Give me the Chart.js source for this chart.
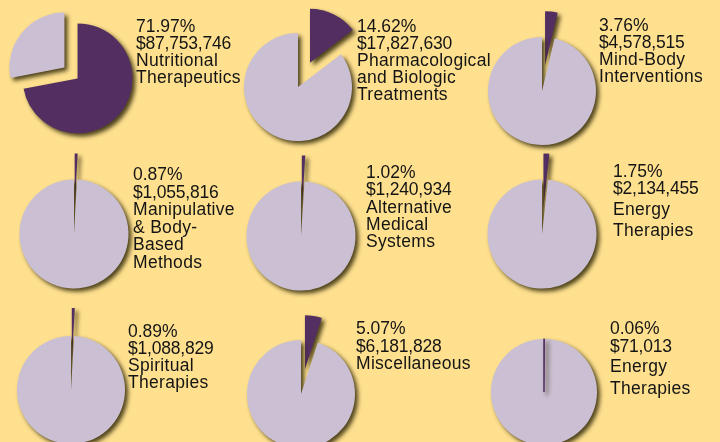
<!DOCTYPE html>
<html>
<head>
<meta charset="UTF-8">
<title>Funding by category</title>
<script src="https://cdn.jsdelivr.net/npm/chart.js"></script>
<style>
  html, body { margin: 0; padding: 0; }
  body {
    width: 720px; height: 442px; overflow: hidden; position: relative;
    background: #fee08f;
    font-family: "Liberation Sans", Arial, sans-serif;
    color: #141414;
  }
  canvas { position: absolute; }
  .lbl { position: absolute; font-size: 17.5px; line-height: 17px; white-space: nowrap; }
  .lbl div { position: absolute; left: 0; }
  .pct { letter-spacing: 0; }
  .amt { letter-spacing: -0.2px; }
  .name { letter-spacing: 0.3px; }
</style>
</head>
<body>
<script>
// data
const categories = [
  'Nutritional Therapeutics',
  'Pharmacological and Biologic Treatments',
  'Mind-Body Interventions',
  'Manipulative & Body-Based Methods',
  'Alternative Medical Systems',
  'Energy Therapies',
  'Spiritual Therapies',
  'Miscellaneous',
  'Energy Therapies'
];
const amounts = [87753746, 17827630, 4578515, 1055816, 1240934, 2134455, 1088829, 6181828, 71013];
const percents = ['71.97%', '14.62%', '3.76%', '0.87%', '1.02%', '1.75%', '0.89%', '5.07%', '0.06%'];
const amountLabels = ['$87,753,746', '$17,827,630', '$4,578,515', '$1,055,816', '$1,240,934',
  '$2,134,455', '$1,088,829', '$6,181,828', '$71,013'];
// how the category name breaks into lines
const nameLines = [
  ['Nutritional', 'Therapeutics'],
  ['Pharmacological', 'and Biologic', 'Treatments'],
  ['Mind-Body', 'Interventions'],
  ['Manipulative', '& Body-', 'Based', 'Methods'],
  ['Alternative', 'Medical', 'Systems'],
  ['Energy', 'Therapies'],
  ['Spiritual', 'Therapies'],
  ['Miscellaneous'],
  ['Energy', 'Therapies']
];

const total = amounts.reduce((a, b) => a + b, 0);

// layout
const PURPLE = '#532e60';
const LAVENDER = '#cbc0d3';
const pies = [
  { cx: 70.5, cy: 72.5, r: 55, explode: [8.5, 8.5] },
  { cx: 298, cy: 87, r: 54, explode: [27, 0] },
  { cx: 542, cy: 91, r: 54, explode: [26, 0] },
  { cx: 73.5, cy: 233.5, r: 54.5, explode: [26, 0] },
  { cx: 301, cy: 236, r: 54.5, explode: [26, 0] },
  { cx: 542, cy: 233.5, r: 54.5, explode: [26, 0] },
  { cx: 71, cy: 390, r: 54, explode: [28, 0] },
  { cx: 301, cy: 394, r: 54, explode: [25, 0] },
  { cx: 544, cy: 392, r: 53, explode: [0, 0], order: [1, 0], edge: 1.5 }
];
const labelPos = [
  { x: 136, base: [33, 50, 67, 84] },
  { x: 357, base: [33, 50, 67, 84, 101] },
  { x: 599, base: [32, 49, 66, 83] },
  { x: 133, base: [181, 198.5, 216, 233.5, 251, 268.5] },
  { x: 366, base: [179, 196, 214, 231, 248] },
  { x: 613, base: [178, 194.5, 216, 237] },
  { x: 128, base: [338, 355, 372, 389] },
  { x: 356, base: [335, 352.5, 370] },
  { x: 610, base: [335, 353, 373, 395] }
];

// draws each slice pulled out along its middle angle, with a drop shadow
const explodePlugin = {
  id: 'explode',
  beforeDatasetDraw(chart, args, opts) {
    const ctx = chart.ctx;
    const arcs = args.meta.data;
    const order = opts.order || arcs.map((a, i) => i);
    order.forEach(i => {
      const arc = arcs[i];
      const d = opts.explode[i] || 0;
      const mid = (arc.startAngle + arc.endAngle) / 2;
      ctx.save();
      ctx.shadowColor = 'rgba(48, 40, 8, 0.85)';
      ctx.shadowBlur = 4;
      ctx.shadowOffsetX = 3;
      ctx.shadowOffsetY = 3;
      ctx.translate(Math.cos(mid) * d, Math.sin(mid) * d);
      arc.draw(ctx);
      ctx.restore();
    });
    return false;
  }
};

const SIZE = 200;
pies.forEach((p, k) => {
  const cv = document.createElement('canvas');
  cv.width = SIZE;
  cv.height = SIZE;
  cv.style.left = (p.cx - SIZE / 2) + 'px';
  cv.style.top = (p.cy - SIZE / 2) + 'px';
  document.body.appendChild(cv);

  new Chart(cv, {
    type: 'pie',
    data: {
      labels: [categories[k], 'Other categories'],
      datasets: [{
        data: [amounts[k], total - amounts[k]],
        backgroundColor: [PURPLE, LAVENDER],
        borderColor: [PURPLE, LAVENDER],
        borderWidth: [p.edge || 0, 0]
      }]
    },
    options: {
      responsive: false,
      animation: false,
      events: [],
      radius: p.r,
      layout: { padding: 0 },
      plugins: {
        legend: { display: false },
        tooltip: { enabled: false },
        explode: { explode: p.explode, order: p.order }
      }
    },
    plugins: [explodePlugin]
  });
});

// text blocks
const ASC = 14.9; // baseline offset inside a 17px line box
labelPos.forEach((pos, k) => {
  const box = document.createElement('div');
  box.className = 'lbl';
  box.style.left = pos.x + 'px';
  box.style.top = '0px';
  const lines = [[percents[k], 'pct'], [amountLabels[k], 'amt']]
    .concat(nameLines[k].map(t => [t, 'name']));
  lines.forEach(([t, cls], i) => {
    const d = document.createElement('div');
    d.className = cls;
    d.textContent = t;
    d.style.top = (pos.base[i] - ASC) + 'px';
    box.appendChild(d);
  });
  document.body.appendChild(box);
});
</script>
</body>
</html>
